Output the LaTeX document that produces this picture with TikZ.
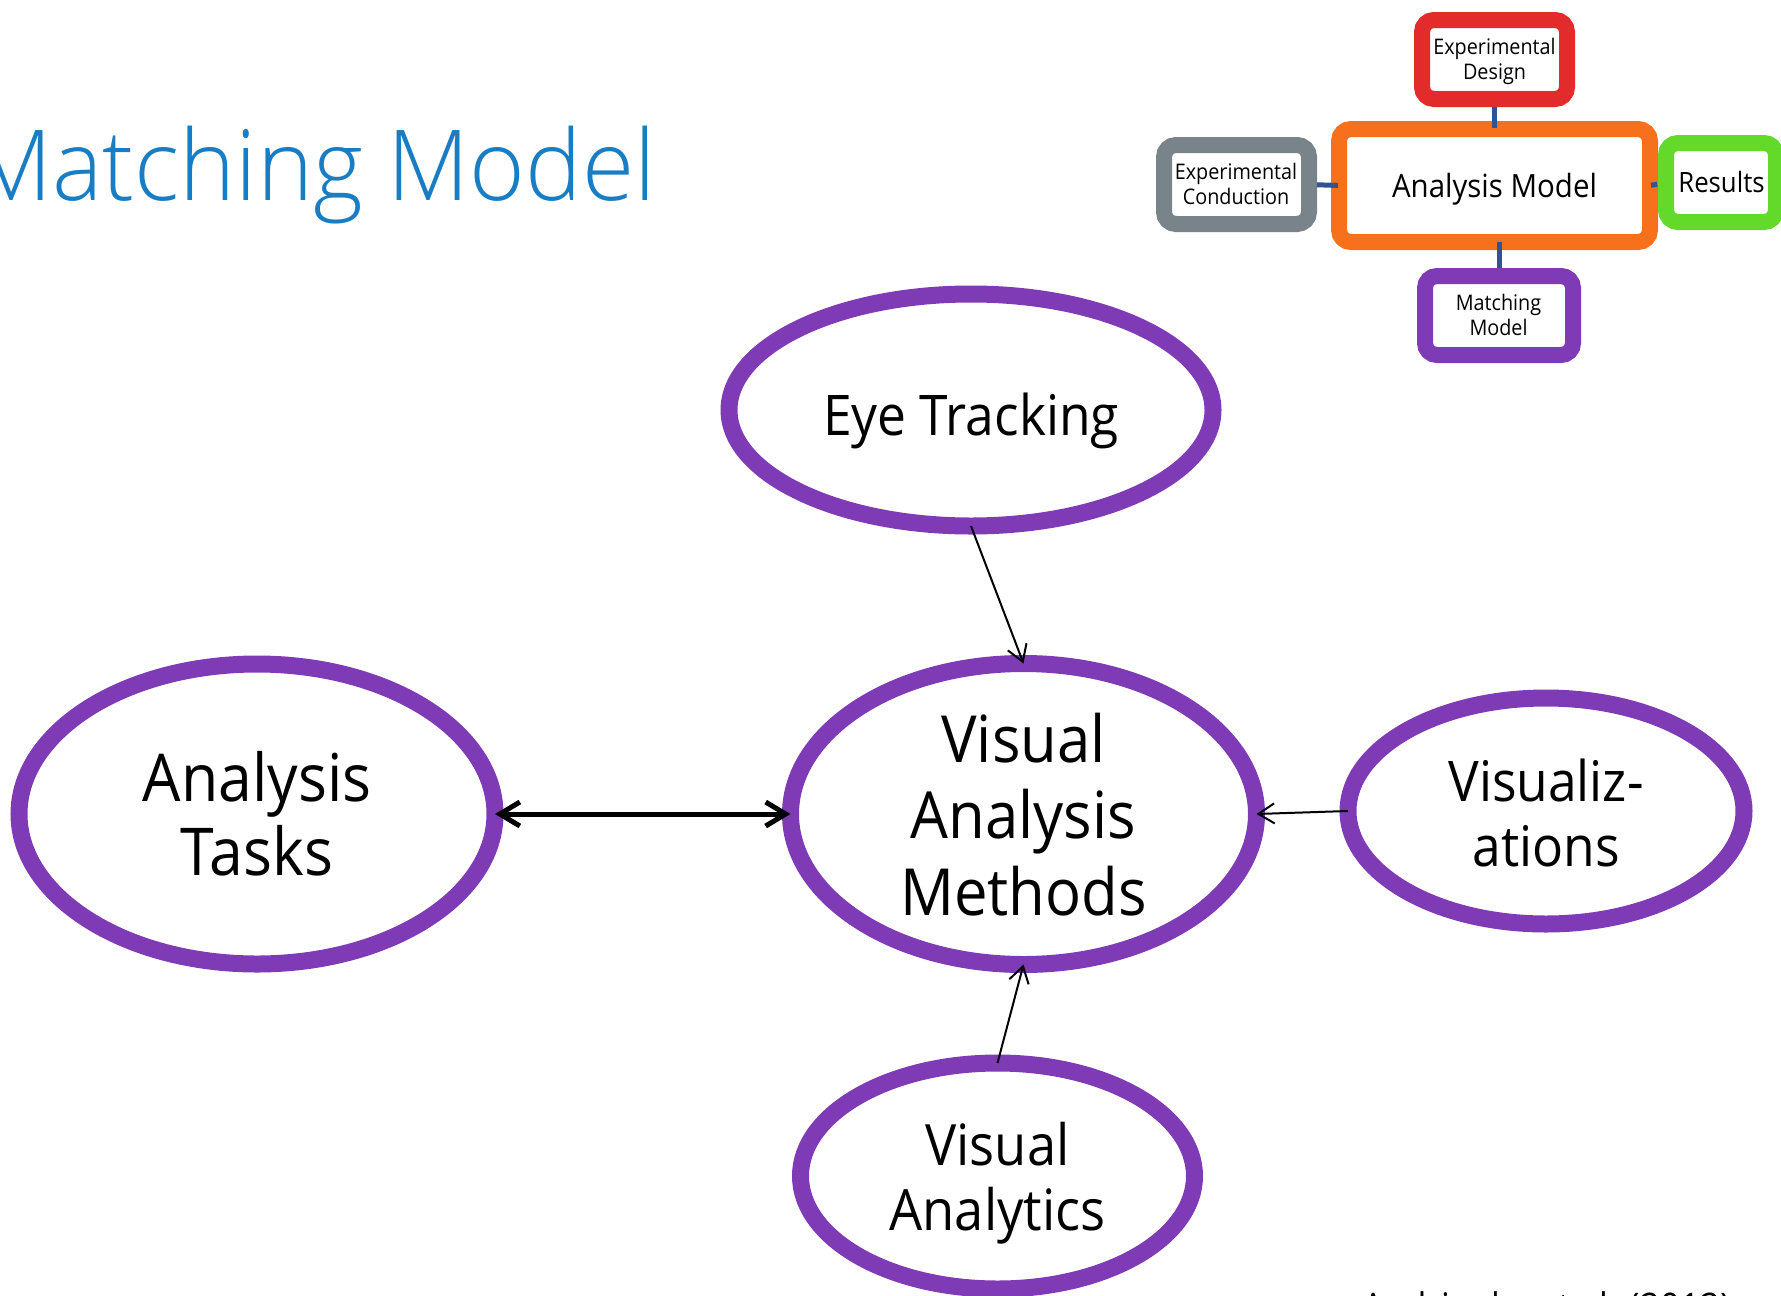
\documentclass[tikz,border=0pt]{standalone}
\usepackage{fontspec}
\setmainfont{Open Sans}[FakeStretch=0.92]
\IfFontExistsTF{Open Sans Light}
  {\newfontfamily\titlefont{Open Sans Light}[FakeStretch=0.97]}
  {\newfontfamily\titlefont{Open Sans}[FakeStretch=0.97]}
\usetikzlibrary{shapes.geometric,arrows.meta}

\definecolor{ovalpurple}{HTML}{7F3AB5}
\definecolor{mapred}{HTML}{E32B2B}
\definecolor{maporange}{HTML}{F7711C}
\definecolor{mapgray}{HTML}{78848A}
\definecolor{mapgreen}{HTML}{63D92A}
\definecolor{mapplum}{HTML}{7F3AB5}
\definecolor{linkblue}{HTML}{2F5496}
\definecolor{titleblue}{HTML}{187DC2}

\newcommand{\fs}[2]{\fontsize{#1}{#2}\selectfont}

\begin{document}
\begin{tikzpicture}[x=1pt,y=-1pt,
  oval/.style={ellipse, draw=ovalpurple, line width=17pt, fill=white,
    inner sep=0pt, outer sep=0pt},
  % multi-line labels are placed by the baseline of their last line
  ovaltext/.style={align=center, text=black, inner sep=0pt, anchor=base},
  mapbox/.style={rectangle, rounded corners=12pt, line width=16pt,
    fill=white, inner sep=0pt, outer sep=0pt},
  maptext/.style={align=center, text=black, inner sep=0pt, anchor=base,
    font=\fs{21.5}{24.7}},
  mapline/.style={draw=linkblue, line width=5pt},
  thinarrow/.style={-{Straight Barb[length=16pt,width=20pt]}, line width=2pt},
  thickarrow/.style={{Straight Barb[length=20pt,width=24pt]}-{Straight Barb[length=20pt,width=24pt]},
    line width=5pt, line cap=round, line join=round},
]
\useasboundingbox (0,0) rectangle (1781,1296);
\clip (0,0) rectangle (1781,1296);

% slide title
\node[anchor=base east, inner sep=0pt, text=titleblue, font=\titlefont\fs{98}{110}]
  (title) at (656,200) {Matching Model};

% the five concepts of the matching model
\node[oval, minimum width=484pt, minimum height=232pt] (et)  at (971,410) {};
\node[oval, minimum width=466pt, minimum height=301pt] (vam) at (1023.5,814) {};
\node[oval, minimum width=476pt, minimum height=300pt] (at)  at (257,814) {};
\node[oval, minimum width=396pt, minimum height=226pt] (vis) at (1546,811) {};
\node[oval, minimum width=394pt, minimum height=226pt] (va)  at (997.5,1176) {};

\node[ovaltext, font=\fs{56}{65}] (et-t)  at (971,435) {Eye Tracking};
\node[ovaltext, font=\fs{65}{76.5}] (vam-t) at (1023.5,915) {Visual\\Analysis\\Methods};
\node[ovaltext, font=\fs{66}{74}] (at-t)  at (257,875) {Analysis\\Tasks};
\node[ovaltext, font=\fs{56}{65}] (vis-t) at (1546,866) {Visualiz-\\ations};
\node[ovaltext, font=\fs{57}{65}] (va-t)  at (997.5,1230) {Visual\\Analytics};

% relations
\draw[thinarrow] (et.south) -- (vam.north);
\draw[thinarrow] (vis.west) -- (vam.east);
\draw[thinarrow] (va.north) -- (vam.south);
\draw[thickarrow] (at.east) -- (vam.west);

% overview map of the analysis model
\node[mapbox, draw=mapred,    minimum width=145pt, minimum height=79pt]  (ed)  at (1494.5,59.5) {};
\node[mapbox, draw=maporange, minimum width=311pt, minimum height=113pt] (am)  at (1494.5,185.5) {};
\node[mapbox, draw=mapgray,   minimum width=145pt, minimum height=79pt]  (ec)  at (1236.5,184.5) {};
\node[mapbox, draw=mapgreen,  minimum width=110pt, minimum height=79pt]  (res) at (1721,182.5) {};
\node[mapbox, draw=mapplum,   minimum width=148pt, minimum height=79pt]  (mm)  at (1499,315.5) {};

\node[maptext] (ed-t)  at (1494.5,79) {Experimental\\Design};
\node[maptext, font=\fs{32}{36}] (am-t) at (1494.5,197) {Analysis Model};
\node[maptext] (ec-t)  at (1236,204) {Experimental\\Conduction};
\node[maptext, font=\fs{28}{32}] (res-t) at (1721.5,192.5) {Results};
\node[maptext] (mm-t)  at (1498.5,335) {Matching\\Model};

\draw[mapline, shorten <=8pt, shorten >=1pt] (ed.south) -- (am.north);
\draw[mapline, shorten <=8pt, shorten >=1pt] (ec.east) -- (am.west);
\draw[mapline, shorten >=8pt] (am.south -| mm.north) -- (mm.north);
\draw[mapline, shorten <=1pt, shorten >=9pt] (am.east) -- (res.west);

% source reference
\node[anchor=base west, inner sep=0pt, font=\fs{38}{42}] (src) at (1362,1320)
  {Andrienko et al. (2012)};
\end{tikzpicture}
\end{document}
